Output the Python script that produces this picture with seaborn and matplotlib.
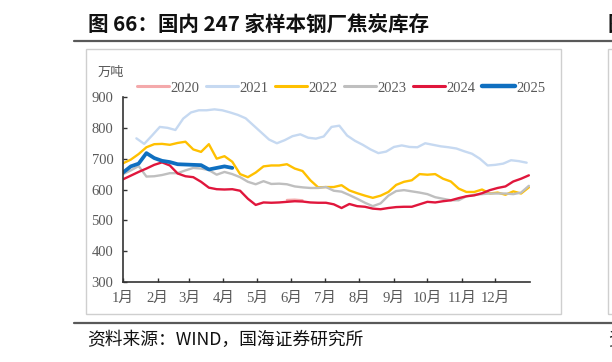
import matplotlib
matplotlib.use("Agg")
import matplotlib.pyplot as plt
from matplotlib.lines import Line2D
from matplotlib.patches import Rectangle
import seaborn as sns
import pandas as pd

# weekly coke stock of 247 sample steel mills (10k tonnes)
years = ["2020", "2021", "2022", "2023", "2024", "2025"]

days_2020 = [147, 154, 161]
vals_2020 = [566, 567, 565]

days_2021 = list(range(12, 363, 7))
vals_2021 = [766, 748, 775, 803, 800, 793, 830, 850, 857, 857,
             860, 857, 850, 842, 831, 808, 785, 762, 750, 760,
             773, 779, 768, 765, 772, 803, 807, 775, 758, 745,
             730, 718, 723, 738, 743, 738, 737, 750, 745, 740,
             737, 733, 724, 716, 700, 678, 680, 684, 695, 692,
             687]

days_2022 = list(range(0, 365, 7))
vals_2022 = [685, 697, 715, 737, 747, 748, 745, 751, 755, 730,
             722, 747, 700, 708, 690, 650, 640, 655, 675, 678,
             678, 682, 668, 660, 630, 607, 608, 608, 614, 597,
             588, 580, 573, 580, 592, 615, 625, 630, 650, 648,
             650, 635, 626, 603, 592, 592, 600, 587, 590, 583,
             594, 587, 607]

days_2023 = list(range(0, 365, 7))
vals_2023 = [650, 662, 676, 642, 643, 647, 653, 653, 662, 670,
             668, 663, 648, 657, 650, 640, 625, 617, 627, 618,
             619, 617, 610, 607, 605, 605, 608, 596, 593, 582,
             570, 557, 546, 555, 580, 595, 598, 594, 590, 585,
             575, 570, 565, 565, 578, 583, 585, 587, 587, 587,
             585, 590, 612]

days_2024 = list(range(0, 365, 7))
vals_2024 = [633, 645, 657, 668, 680, 688, 678, 652, 643, 640,
             625, 606, 601, 600, 601, 596, 570, 550, 558, 557,
             558, 560, 562, 561, 558, 557, 557, 552, 540, 553,
             546, 544, 538, 536, 540, 543, 544, 544, 552, 560,
             558, 562, 565, 572, 578, 581, 588, 598, 605, 610,
             626, 635, 646]

days_2025 = list(range(0, 99, 7))
vals_2025 = [655, 675, 684, 718, 702, 693, 689, 682, 681, 680,
             679, 665, 670, 675, 670]

month_days = [0, 31, 59, 90, 120, 151, 181, 212, 243, 273, 304, 334]
month_labels = ["1月", "2月", "3月", "4月", "5月", "6月",
                "7月", "8月", "9月", "10月", "11月", "12月"]
y_ticks = [300, 400, 500, 600, 700, 800, 900]

colors = {"2020": "#f4a9ab", "2021": "#c6d9f1", "2022": "#ffc000",
          "2023": "#bfbfbf", "2024": "#e0163c", "2025": "#0f6fc0"}
widths = {"2020": 1.7, "2021": 1.7, "2022": 1.7, "2023": 1.7,
          "2024": 1.7, "2025": 2.7}

series = {
    "2020": (days_2020, vals_2020),
    "2021": (days_2021, vals_2021),
    "2022": (days_2022, vals_2022),
    "2023": (days_2023, vals_2023),
    "2024": (days_2024, vals_2024),
    "2025": (days_2025, vals_2025),
}
frames = []
for y in years:
    d, v = series[y]
    frames.append(pd.DataFrame({"day": d, "value": v, "year": y}))
df = pd.concat(frames, ignore_index=True)

sns.set_style("white")
plt.rcParams["font.family"] = ["Liberation Serif", "Noto Sans CJK SC", "DejaVu Sans"]

fig = plt.figure(figsize=(6.12, 3.62), dpi=100)
ax = fig.add_axes([0.2010, 0.221, 0.665, 0.511])

for y in years:
    sub = df[df["year"] == y]
    sns.lineplot(data=sub, x="day", y="value", ax=ax, color=colors[y],
                 linewidth=widths[y], legend=False)

ax.set_xlim(0, 365)
ax.set_ylim(300, 900)
ax.set_xticks(month_days)
ax.set_xticklabels(month_labels)
ax.set_yticks(y_ticks)
ax.set_xlabel("")
ax.set_ylabel("")
for s in ["top", "right"]:
    ax.spines[s].set_visible(False)
for s in ["left", "bottom"]:
    ax.spines[s].set_color("#333333")
    ax.spines[s].set_linewidth(1.2)
ax.tick_params(axis="both", direction="in", length=3, width=1.0,
               colors="#333333", labelcolor="#595959", labelsize=10.5)
ax.tick_params(axis="x", pad=7, bottom=True)
ax.tick_params(axis="y", pad=7, left=True)
for lbl in ax.get_xticklabels() + ax.get_yticklabels():
    lbl.set_family(["Liberation Serif", "Noto Sans CJK SC"])

handles = [Line2D([0], [0], color=colors[y], lw=widths[y] + 0.5) for y in years]
leg = fig.legend(handles, years, loc="center", bbox_to_anchor=(0.557, 0.757),
                 ncol=6, frameon=False, fontsize=10.5, handlelength=2.2,
                 handletextpad=0.1, columnspacing=0.45)
for t in leg.get_texts():
    t.set_color("#595959")

fig.text(0.181, 0.801, "万吨", ha="center", va="center", fontsize=9.5,
         color="#595959", family=["Noto Sans CJK SC"])

# frame and page furniture
fig.patches.append(Rectangle((0.1405, 0.1326), 0.7762, 0.732, transform=fig.transFigure,
                             fill=False, edgecolor="#cfcfcf", linewidth=1.0))
fig.patches.append(Rectangle((0.9935, 0.1326), 0.1, 0.732, transform=fig.transFigure,
                             fill=False, edgecolor="#cfcfcf", linewidth=1.0))
fig.add_artist(Line2D([0.121, 1.0], [0.887, 0.887], color="#595959", lw=1.6,
                      transform=fig.transFigure))
fig.add_artist(Line2D([0.121, 1.0], [0.109, 0.109], color="#595959", lw=1.6,
                      transform=fig.transFigure))

fig.text(0.1438, 0.931, "图 66：国内 247 家样本钢厂焦炭库存", ha="left", va="center",
         fontsize=14.8, fontweight="bold", color="#111111",
         family=["Noto Sans CJK SC", "DejaVu Sans"])
fig.text(0.993, 0.931, "图", ha="left", va="center", fontsize=14.8,
         fontweight="bold", color="#111111", family=["Noto Sans CJK SC"])
fig.text(0.142, 0.061, "资料来源：WIND，国海证券研究所", ha="left", va="center",
         fontsize=12.8, color="#111111", family=["Noto Sans CJK SC", "DejaVu Sans"])
fig.text(0.993, 0.061, "资", ha="left", va="center", fontsize=12.8,
         color="#111111", family=["Noto Sans CJK SC"])

fig.savefig("out.png", dpi=100)
